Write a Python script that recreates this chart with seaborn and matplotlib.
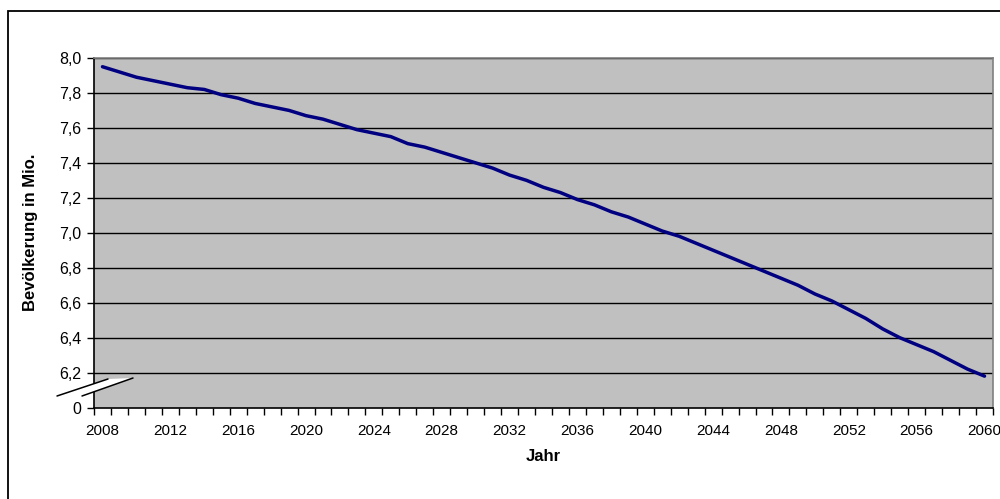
import matplotlib
matplotlib.use("Agg")
import matplotlib.pyplot as plt
from matplotlib.patches import Rectangle, Polygon
from matplotlib.lines import Line2D
from matplotlib.ticker import FixedLocator, FixedFormatter
import numpy as np
import pandas as pd
import seaborn as sns

# Population projection (millions)
years = list(range(2008, 2061))
population = [
    7.95, 7.92, 7.89, 7.87, 7.85, 7.83, 7.82, 7.79, 7.77, 7.74,
    7.72, 7.70, 7.67, 7.65, 7.62, 7.59, 7.57, 7.55, 7.51, 7.49,
    7.46, 7.43, 7.40, 7.37, 7.33, 7.30, 7.26, 7.23, 7.19, 7.16,
    7.12, 7.09, 7.05, 7.01, 6.98, 6.94, 6.90, 6.86, 6.82, 6.78,
    6.74, 6.70, 6.65, 6.61, 6.56, 6.51, 6.45, 6.40, 6.36, 6.32,
    6.27, 6.22, 6.18,
]
y_ticks = [6.0, 6.2, 6.4, 6.6, 6.8, 7.0, 7.2, 7.4, 7.6, 7.8, 8.0]
y_tick_labels = ["0", "6,2", "6,4", "6,6", "6,8", "7,0", "7,2", "7,4", "7,6", "7,8", "8,0"]
x_label_years = list(range(2008, 2061, 4))

df = pd.DataFrame({"Jahr": years, "Bevoelkerung": population})

sns.set_style("white")
plt.rcParams["font.family"] = ["Liberation Sans", "DejaVu Sans"]
plt.rcParams["text.color"] = "black"
plt.rcParams["axes.labelcolor"] = "black"
plt.rcParams["xtick.color"] = "black"
plt.rcParams["ytick.color"] = "black"

fig = plt.figure(figsize=(10.0, 4.99), dpi=100)
ax = fig.add_axes([0.094, 0.1832, 0.899, 0.7006])
ax.set_facecolor("#C0C0C0")

# Horizontal gridlines
for v in y_ticks[1:]:
    ax.axhline(v, color="black", lw=1.0, zorder=1)

sns.lineplot(data=df, x="Jahr", y="Bevoelkerung", ax=ax, color="#000080",
             lw=2.5, zorder=3)

ax.set_xlim(2007.5, 2060.5)
ax.set_ylim(6.0, 8.0)

# Category-style x axis: tick marks between years, labels every 4 years
ax.xaxis.set_major_locator(FixedLocator(x_label_years))
ax.xaxis.set_major_formatter(FixedFormatter([str(y) for y in x_label_years]))
ax.xaxis.set_minor_locator(FixedLocator(np.arange(2007.5, 2061.0, 1.0)))
ax.tick_params(axis="x", which="major", length=0, pad=12, labelsize=11,
               labelcolor="black")
ax.tick_params(axis="x", which="minor", length=5, width=1, color="black",
               direction="out", bottom=True)

ax.yaxis.set_major_locator(FixedLocator(y_ticks))
ax.yaxis.set_major_formatter(FixedFormatter(y_tick_labels))
ax.tick_params(axis="y", which="major", length=5, width=1, color="black",
               direction="out", left=True, pad=4, labelsize=11.5,
               labelcolor="black")

for side in ("left", "bottom"):
    ax.spines[side].set_color("black")
    ax.spines[side].set_linewidth(1.2)
for side in ("top", "right"):
    ax.spines[side].set_color("#808080")
    ax.spines[side].set_linewidth(1.2)

ax.set_xlabel("Jahr", fontsize=12, fontweight="bold", labelpad=8,
              color="black")
ax.set_ylabel("Bevölkerung in Mio.", fontsize=12, fontweight="bold",
              color="black")
ax.yaxis.set_label_coords(-0.062, 0.5)

# Axis break marker between 0 and 6,2
W, H = 1000.0, 499.0
def fc(px, py):
    return (px / W, 1 - py / H)

band = Polygon([fc(57, 396), fc(108, 379), fc(133, 378), fc(82, 396)],
               closed=True, transform=fig.transFigure, facecolor="white",
               edgecolor="none", zorder=10, clip_on=False)
fig.patches.append(band)
for (x0, y0, x1, y1) in [(57, 396, 108, 379), (82, 396, 133, 378)]:
    p0, p1 = fc(x0, y0), fc(x1, y1)
    fig.lines.append(Line2D([p0[0], p1[0]], [p0[1], p1[1]],
                            transform=fig.transFigure, color="black",
                            lw=1.1, zorder=11))

# Chart-area frame
frame = Rectangle(fc(8, 520), 1.2, (520 - 11) / H, transform=fig.transFigure,
                  facecolor="none", edgecolor="black", lw=1.3, zorder=0)
fig.patches.append(frame)

fig.savefig("out.png", dpi=100)
